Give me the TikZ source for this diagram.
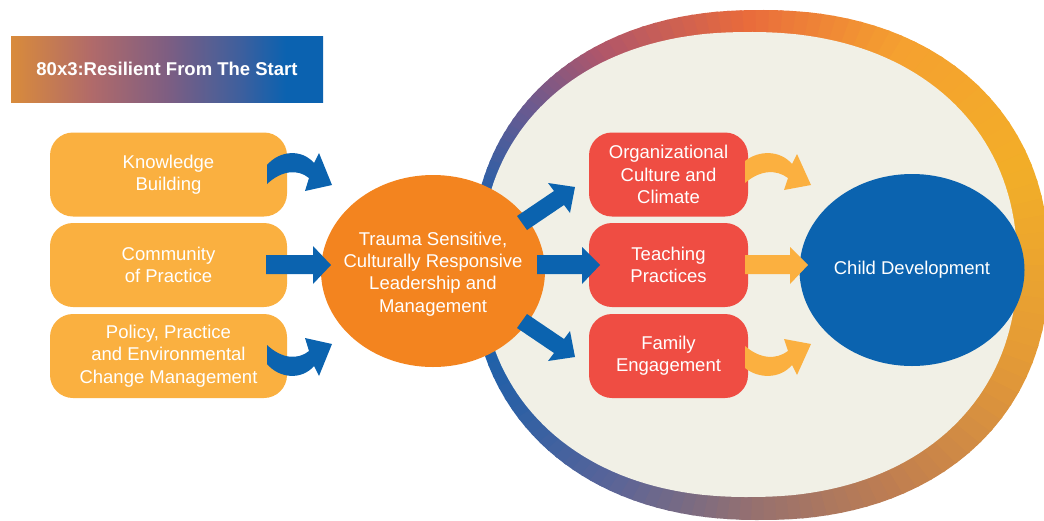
\documentclass[tikz,border=0pt]{standalone}
\usepackage{fontspec}
\setmainfont{Liberation Sans}
\usetikzlibrary{shapes.geometric}
\definecolor{boxyel}{HTML}{FAB040}
\definecolor{arryel}{HTML}{FBB040}
\definecolor{orng}{HTML}{F3841F}
\definecolor{bblue}{HTML}{0B63AF}
\definecolor{rred}{HTML}{EF4D43}
\definecolor{cream}{HTML}{F1F0E6}
\definecolor{rc0}{HTML}{0B62B0}
\definecolor{rc1}{HTML}{2D60A5}
\definecolor{rc2}{HTML}{5A6498}
\definecolor{rc3}{HTML}{957070}
\definecolor{rc4}{HTML}{C07E50}
\definecolor{rc5}{HTML}{E49A36}
\definecolor{rc6}{HTML}{F2AE28}
\definecolor{rc7}{HTML}{F5A030}
\definecolor{rc8}{HTML}{E86A3C}
\definecolor{rc9}{HTML}{B0566A}
\definecolor{rc10}{HTML}{6A5A90}
\definecolor{rc11}{HTML}{2A60A8}
\definecolor{bn0}{HTML}{D98B3B}
\definecolor{bn1}{HTML}{B06A6A}
\definecolor{bn2}{HTML}{7E5E82}
\definecolor{bn3}{HTML}{3C5F9E}
\pgfdeclarehorizontalshading{banner}{100bp}{color(0bp)=(bn0); color(25bp)=(bn0); color(38bp)=(bn1); color(50bp)=(bn2); color(62bp)=(bn3); color(69bp)=(rc0); color(100bp)=(rc0)}
\newcommand\fsz{\fontsize{18.5}{22.3}\selectfont}
\begin{document}
\begin{tikzpicture}[x=1pt,y=-1pt,
  ybox/.style={rectangle, rounded corners=23pt, fill=boxyel, minimum width=237pt, minimum height=84pt, text=white, align=center, font=\fsz, inner sep=0pt},
  rbox/.style={rectangle, rounded corners=23pt, fill=rred, minimum width=159pt, minimum height=84pt, text=white, align=center, font=\fsz, inner sep=0pt},
  oval/.style={ellipse, minimum width=224pt, minimum height=192pt, inner sep=0pt},
  ovaltext/.style={text=white, align=center, font=\fsz},
  barrow/.style={fill=bblue},
  yarrow/.style={fill=arryel}]
\useasboundingbox (0,0) rectangle (1044,520);
\clip (0,0) rectangle (1044,520);
% gradient ring
\begin{scope}
\clip plot[variable=\t, domain=0.5:360.5, samples=181] ({760+289*sign(cos(\t))*abs(cos(\t))^(2/2.2)}, {265+255*sign(sin(\t))*abs(sin(\t))^(2/2.2)}) -- cycle;
\foreach \a/\b/\ca/\cb in {-180/-150/rc0/rc1, -150/-124/rc1/rc2, -124/-92/rc2/rc3, -92/-58/rc3/rc4, -58/-20/rc4/rc5, -20/20/rc5/rc6, 20/58/rc6/rc7, 58/94/rc7/rc8, 94/127/rc8/rc9, 127/146/rc9/rc10, 146/165/rc10/rc11, 165/180/rc11/rc0}{
  \foreach \k in {0,...,11}{
    \pgfmathsetmacro\tA{\a+(\b-\a)*\k/12}
    \pgfmathsetmacro\tB{\a+(\b-\a)*(\k+1)/12+0.6}
    \pgfmathtruncatemacro\mx{100-(\k+0.5)*100/12}
    \fill[\ca!\mx!\cb, shift={(760,265)}] (0,0) -- (\tA:700pt) -- (\tB:700pt) -- cycle;
  }
}
\end{scope}
\fill[cream] plot[variable=\t, domain=0.5:360.5, samples=181] ({749+268*sign(cos(\t))*abs(cos(\t))^(2/2.2)}, {264.5+232.5*sign(sin(\t))*abs(sin(\t))^(2/2.2)}) -- cycle;
% title
\node[shading=banner, minimum width=312pt, minimum height=66pt, inner sep=0pt, text=white, font=\fontsize{18.5}{22}\selectfont\bfseries] (title) at (167,69) {80x3:Resilient From The Start};
% left boxes
\node[ybox] (kb) at (168.5,174.5) {Knowledge\\Building};
\node[ybox] (cp) at (168.5,265) {Community\\of Practice};
\node[ybox] (pp) at (168.5,356) {Policy, Practice\\and Environmental\\Change Management};
% central ellipse
\node[oval, fill=orng, label={[ovaltext, yshift=-3pt]center:{Trauma Sensitive,\\Culturally Responsive\\Leadership and\\Management}}] (lead) at (433,271) {};
% red boxes
\node[rbox] (oc) at (668.5,174.5) {Organizational\\Culture and\\Climate};
\node[rbox] (tp) at (668.5,265) {Teaching\\Practices};
\node[rbox] (fe) at (668.5,356) {Family\\Engagement};
% child development
\node[oval, fill=bblue, minimum width=225pt, label={[ovaltext]center:Child Development}] (cd) at (912,270) {};
% blue arrows left
\fill[barrow] (267,184) .. controls (282,170) and (298,169) .. (309,178) -- (305,191) -- (332,185) -- (319,153) -- (314,163) .. controls (302,149) and (280,150) .. (267,165) -- cycle;
\fill[barrow] (266,255) -- (313,255) -- (313,246) -- (331,265) -- (313,284) -- (313,274) -- (266,274) -- cycle;
\fill[barrow] (267,345) .. controls (282,359) and (298,360) .. (309,351) -- (305,338) -- (332,344) -- (319,376) -- (314,366) .. controls (302,380) and (280,379) .. (267,364) -- cycle;
% blue arrows right
\fill[barrow] (517,216) -- (554,191) -- (548,183) -- (575,187) -- (570,213) -- (564,205) -- (527,230) -- cycle;
\fill[barrow] (537,255) -- (582,255) -- (582,247) -- (600,265) -- (582,284) -- (582,274) -- (537,274) -- cycle;
\fill[barrow] (517,328) -- (554,353) -- (548,361) -- (575,357) -- (570,331) -- (564,339) -- (527,314) -- cycle;
% yellow arrows
\fill[yarrow] (745,183) .. controls (760,170) and (776,169) .. (788,178) -- (784,190) -- (811,185) -- (797,154) -- (792,164) .. controls (780,150) and (759,150) .. (745,161) -- cycle;
\fill[yarrow] (745,255) -- (790,255) -- (790,247) -- (808,265) -- (790,284) -- (790,274) -- (745,274) -- cycle;
\fill[yarrow] (745,346) .. controls (760,359) and (776,360) .. (788,351) -- (784,339) -- (811,344) -- (797,375) -- (792,365) .. controls (780,379) and (759,379) .. (745,368) -- cycle;
\end{tikzpicture}
\end{document}
